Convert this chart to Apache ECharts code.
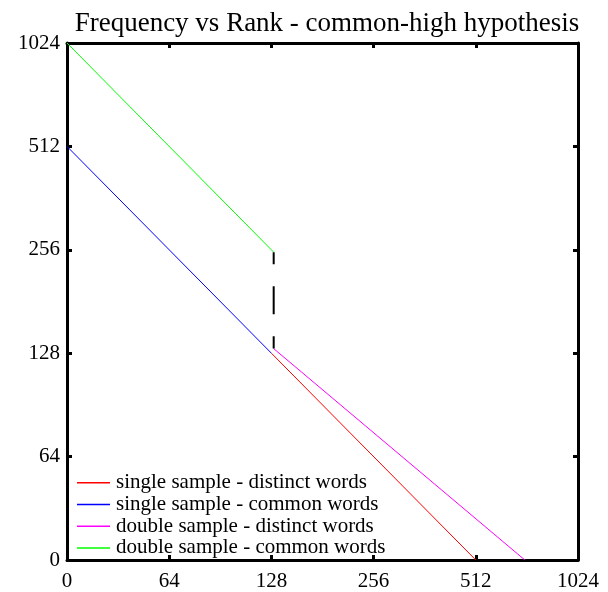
<!DOCTYPE html>
<html>
<head>
<meta charset="utf-8">
<script src="https://cdn.jsdelivr.net/npm/echarts@6/dist/echarts.min.js"></script>
<style>html,body{margin:0;padding:0;background:#fff;}#c{width:608px;height:592px;}</style>
</head>
<body>
<div id="c"></div>
<script>
// Tick labels (axis positions are powers of two from 32 to 1024; lowest labelled "0")
const xTickLabels = ['0', '64', '128', '256', '512', '1024'];
const yTickLabels = ['0', '64', '128', '256', '512', '1024'];

// Series: [rank] and [frequency]
const singleDistinctRank = [128, 512];
const singleDistinctFreq = [128, 32];
const singleCommonRank = [32, 128];
const singleCommonFreq = [512, 128];
const doubleDistinctRank = [130, 714];
const doubleDistinctFreq = [132, 32];
const doubleCommonRank = [32, 130];
const doubleCommonFreq = [1024, 252];
const gapRank = [130, 130];
const gapFreq = [252, 132];

const names = [
  'single sample - distinct words',
  'single sample - common words',
  'double sample - distinct words',
  'double sample - common words'
];
const colors = ['#ff0000', '#0000ff', '#ff00ff', '#00ff00'];

function pts(r, f) { return r.map((v, i) => [Math.log2(v), Math.log2(f[i])]); }

const FONT = 'Liberation Serif';
const fmtX = v => xTickLabels[Math.round(v) - 5];
const fmtY = v => yTickLabels[Math.round(v) - 5];

const axisCommon = {
  type: 'value', min: 5, max: 10, interval: 1,
  axisLine: { show: true, lineStyle: { color: '#000', width: 3 } },
  axisTick: { show: true, inside: true, length: 5, lineStyle: { color: '#000', width: 3 } },
  splitLine: { show: false }
};

const chart = echarts.init(document.getElementById('c'));
chart.setOption({
  animation: false,
  backgroundColor: '#fff',
  title: {
    text: 'Frequency vs Rank - common-high hypothesis',
    left: 322, top: 5, textAlign: 'center',
    textStyle: { fontFamily: FONT, fontSize: 27, fontWeight: 'normal', color: '#000' }
  },
  grid: { left: 67, right: 30, top: 43, bottom: 30 },
  legend: {
    orient: 'vertical', left: 72, top: 467,
    data: names, icon: 'rect', itemWidth: 33, itemHeight: 1.5, itemGap: 0,
    selectedMode: false,
    textStyle: { fontFamily: FONT, fontSize: 21, color: '#000', lineHeight: 21.7, padding: [0,0,0,1] }
  },
  xAxis: [
    Object.assign({}, axisCommon, {
      position: 'bottom',
      axisLabel: { formatter: fmtX, fontFamily: FONT, fontSize: 21, color: '#000', margin: 11 }
    }),
    Object.assign({}, axisCommon, { position: 'top', axisLabel: { show: false } })
  ],
  yAxis: [
    Object.assign({}, axisCommon, {
      position: 'left',
      axisLabel: { formatter: fmtY, fontFamily: FONT, fontSize: 21, color: '#000', margin: 7 }
    }),
    Object.assign({}, axisCommon, { position: 'right', axisLabel: { show: false } })
  ],
  series: [
    { name: names[0], data: pts(singleDistinctRank, singleDistinctFreq), color: colors[0] },
    { name: names[1], data: pts(singleCommonRank, singleCommonFreq), color: colors[1] },
    { name: names[2], data: pts(doubleDistinctRank, doubleDistinctFreq), color: colors[2] },
    { name: names[3], data: pts(doubleCommonRank, doubleCommonFreq), color: colors[3] },
    { name: 'gap', data: pts(gapRank, gapFreq), color: '#000',
      lineStyle: { width: 2, type: [28, 22], dashOffset: 16 } }
  ].map(s => Object.assign({
    type: 'line', showSymbol: false, symbol: 'none', z: 1,
    lineStyle: { width: 1 }
  }, s))
});
</script>
</body>
</html>
